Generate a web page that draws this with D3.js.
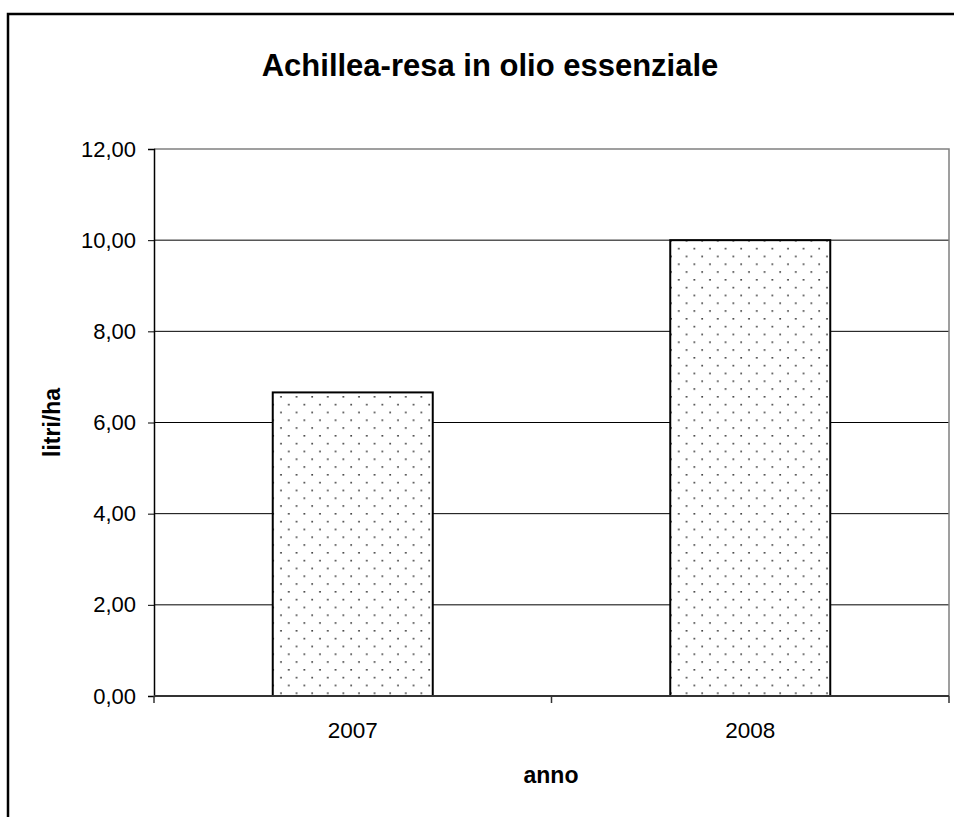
<!DOCTYPE html>
<html>
<head>
<meta charset="utf-8">
<script src="https://cdn.jsdelivr.net/npm/d3@7"></script>
<style>
  html, body { margin: 0; padding: 0; background: #fff; }
  svg { display: block; font-family: Arial, "Liberation Sans", sans-serif; }
</style>
</head>
<body>
<svg id="chart" width="954" height="817"></svg>
<script>
// Essential oil yield of yarrow (Achillea) per hectare, by year
const years = ["2007", "2008"];
const yieldLitres = [6.66, 10.0];
const yTicks = [0, 2, 4, 6, 8, 10, 12];

const svg = d3.select("#chart");
const W = 954, H = 817;
const m = { left: 154, right: 5, top: 149, bottom: 121 };
const plotW = W - m.left - m.right;
const plotH = H - m.top - m.bottom;
const FONT = "Arial, 'Liberation Sans', sans-serif";

// Outer chart frame (extends past the right and bottom edges)
svg.append("rect")
  .attr("x", 8).attr("y", 14)
  .attr("width", W + 20).attr("height", H + 20)
  .attr("fill", "#fff").attr("stroke", "#000").attr("stroke-width", 2.5);

// Dotted fill pattern for the bars
const defs = svg.append("defs");
const pat = defs.append("pattern")
  .attr("id", "dots").attr("patternUnits", "userSpaceOnUse")
  .attr("width", 15.6).attr("height", 15.6)
  .attr("x", 277).attr("y", 396);
pat.append("rect").attr("width", 15.6).attr("height", 15.6).attr("fill", "#fff");
pat.append("rect").attr("x", 3.2).attr("y", 0).attr("width", 1.6).attr("height", 1.6).attr("fill", "#333");
pat.append("rect").attr("x", 11).attr("y", 7.8).attr("width", 1.6).attr("height", 1.6).attr("fill", "#333");

const x = d3.scaleBand().domain(years).range([m.left, m.left + plotW]).paddingInner(0).paddingOuter(0);
const y = d3.scaleLinear().domain([0, 12]).range([m.top + plotH, m.top]);

// Title
svg.append("text")
  .attr("x", 490).attr("y", 76)
  .attr("text-anchor", "middle")
  .attr("font-size", 31).attr("font-weight", "bold")
  .text("Achillea-resa in olio essenziale");

// Gridlines
svg.append("g").selectAll("line")
  .data(yTicks.filter(t => t > 0 && t < 12))
  .join("line")
  .attr("x1", m.left).attr("x2", m.left + plotW)
  .attr("y1", d => y(d)).attr("y2", d => y(d))
  .attr("stroke", "#000").attr("stroke-width", 1);

// Plot area border (top and right)
svg.append("path")
  .attr("d", `M${m.left},${y(12)}H${m.left + plotW}V${y(0)}`)
  .attr("fill", "none").attr("stroke", "#808080").attr("stroke-width", 1.5);

// Bars
const barW = 160;
svg.append("g").selectAll("rect")
  .data(years.map((yr, i) => ({ yr, v: yieldLitres[i] })))
  .join("rect")
  .attr("x", d => x(d.yr) + x.bandwidth() / 2 - barW / 2)
  .attr("width", barW)
  .attr("y", d => y(d.v))
  .attr("height", d => y(0) - y(d.v))
  .attr("fill", "url(#dots)")
  .attr("stroke", "#000").attr("stroke-width", 2);

// Y axis
const yAxis = svg.append("g")
  .attr("transform", `translate(${m.left},0)`)
  .call(d3.axisLeft(y).tickValues(yTicks).tickSize(6).tickPadding(12)
    .tickFormat(d => d3.format(".2f")(d).replace(".", ",")));
yAxis.attr("font-family", FONT).attr("font-size", 22);
yAxis.select(".domain").attr("stroke", "#000").attr("stroke-width", 1.5);
yAxis.selectAll(".tick line").attr("stroke", "#000");
yAxis.selectAll(".tick text").attr("fill", "#000");

// X axis: category labels with ticks on band boundaries
const xg = svg.append("g").attr("transform", `translate(0,${y(0)})`);
xg.append("line")
  .attr("x1", m.left).attr("x2", m.left + plotW)
  .attr("stroke", "#333").attr("stroke-width", 2);
const bounds = [m.left, ...years.slice(1).map(d => x(d)), m.left + plotW];
xg.selectAll("line.tk").data(bounds).join("line").attr("class", "tk")
  .attr("x1", d => d).attr("x2", d => d).attr("y1", 0).attr("y2", 7)
  .attr("stroke", "#333").attr("stroke-width", 1.5);
xg.selectAll("text").data(years).join("text")
  .attr("x", d => x(d) + x.bandwidth() / 2)
  .attr("y", 42)
  .attr("text-anchor", "middle")
  .attr("font-size", 22.5)
  .text(d => d);

// Axis titles
svg.append("text")
  .attr("x", 551).attr("y", 783)
  .attr("text-anchor", "middle")
  .attr("font-size", 23).attr("font-weight", "bold")
  .text("anno");

svg.append("text")
  .attr("transform", `translate(60,${(y(0) + y(12)) / 2}) rotate(-90)`)
  .attr("text-anchor", "middle")
  .attr("font-size", 23).attr("font-weight", "bold")
  .text("litri/ha");
</script>
</body>
</html>
